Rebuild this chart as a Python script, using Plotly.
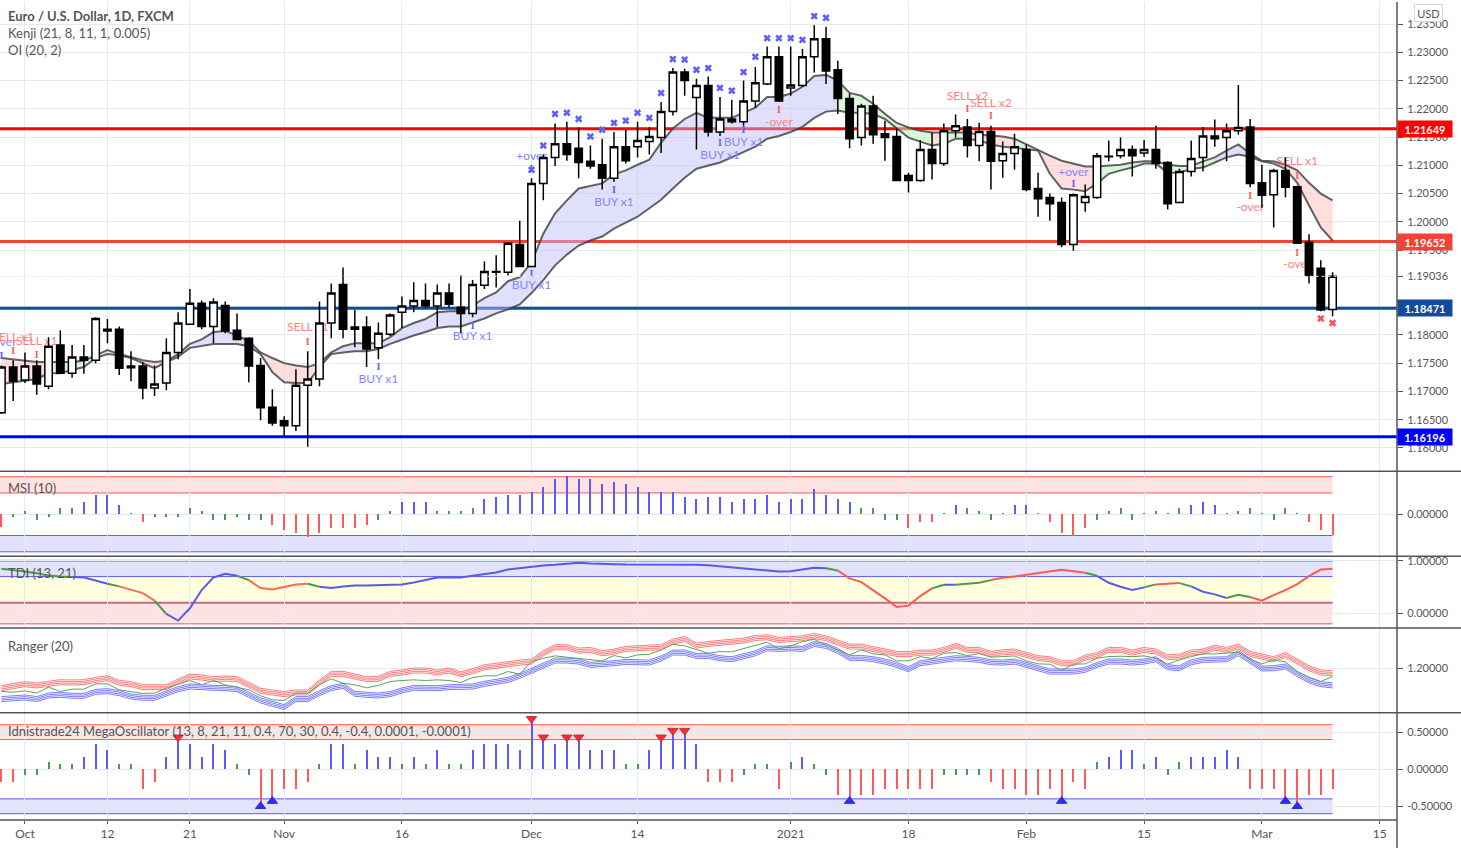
import plotly.graph_objects as go

# ---------- data ----------
BAR_INDEX = list(range(-2, 112))
OPEN = [1.1662,1.1743,1.1720,1.1745,1.1709,1.1782,1.1732,1.1761,1.1755,1.1810,1.1810,1.1745,1.1745,1.1706,1.1715,1.1769,1.1819,1.1856,1.1815,1.1852,1.1808,1.1794,1.1746,1.1672,1.1648,1.1639,1.1711,1.1722,1.1821,1.1889,1.1814,1.1814,1.1777,1.1801,1.1840,1.1851,1.1861,1.1851,1.1874,1.1849,1.1838,1.1888,1.1911,1.1911,1.1960,1.1921,1.2068,1.2114,1.2138,1.2130,1.2107,1.2101,1.2077,1.2133,1.2133,1.2142,1.2149,1.2195,1.2265,1.2220,1.2241,1.2159,1.2182,1.2177,1.2214,1.2244,1.2292,1.2237,1.2241,1.2292,1.2324,1.2269,1.2218,1.2149,1.2205,1.2156,1.2151,1.2082,1.2073,1.2128,1.2103,1.2161,1.2168,1.2135,1.2160,1.2108,1.2121,1.2128,1.2059,1.2043,1.2034,1.1960,1.2034,1.2043,1.2115,1.2117,1.2128,1.2122,1.2128,1.2105,1.2034,1.2089,1.2114,1.2152,1.2149,1.2161,1.2168,1.2069,1.2048,1.2091,1.2062,1.1964,1.1918,1.1845]
HIGH = [1.1746,1.1755,1.1769,1.1755,1.1796,1.1808,1.1782,1.1782,1.1831,1.1828,1.1815,1.1771,1.1752,1.1746,1.1794,1.1840,1.1881,1.1861,1.1865,1.1859,1.1838,1.1796,1.1759,1.1704,1.1656,1.1739,1.1771,1.1859,1.1891,1.1919,1.1844,1.1833,1.1822,1.1838,1.1868,1.1893,1.1891,1.1889,1.1891,1.1905,1.1897,1.1930,1.1941,1.1964,1.2002,1.2077,1.2119,1.2174,1.2177,1.2167,1.2135,1.2147,1.2159,1.2163,1.2177,1.2168,1.2212,1.2272,1.2271,1.2253,1.2257,1.2221,1.2216,1.2250,1.2274,1.2310,1.2310,1.2310,1.2306,1.2348,1.2345,1.2285,1.2227,1.2209,1.2223,1.2179,1.2165,1.2087,1.2145,1.2158,1.2174,1.2190,1.2182,1.2175,1.2170,1.2142,1.2156,1.2137,1.2087,1.2050,1.2043,1.2050,1.2066,1.2122,1.2144,1.2149,1.2135,1.2145,1.2170,1.2107,1.2094,1.2144,1.2168,1.2181,1.2174,1.2242,1.2182,1.2101,1.2094,1.2114,1.2064,1.1978,1.1932,1.1911]
LOW = [1.1660,1.1683,1.1715,1.1694,1.1704,1.1731,1.1724,1.1731,1.1750,1.1785,1.1729,1.1718,1.1686,1.1692,1.1702,1.1757,1.1819,1.1810,1.1785,1.1803,1.1791,1.1716,1.1649,1.1639,1.1621,1.1630,1.1602,1.1709,1.1794,1.1794,1.1778,1.1743,1.1757,1.1798,1.1812,1.1840,1.1849,1.1814,1.1849,1.1803,1.1831,1.1881,1.1884,1.1905,1.1921,1.1921,1.2038,1.2099,1.2108,1.2077,1.2094,1.2057,1.2071,1.2103,1.2114,1.2119,1.2122,1.2188,1.2223,1.2128,1.2151,1.2152,1.2174,1.2170,1.2202,1.2242,1.2212,1.2223,1.2239,1.2264,1.2244,1.2191,1.2130,1.2135,1.2138,1.2108,1.2073,1.2052,1.2071,1.2075,1.2099,1.2149,1.2114,1.2107,1.2057,1.2078,1.2092,1.2054,1.2009,1.2002,1.1955,1.1949,1.2018,1.2041,1.2107,1.2112,1.2080,1.2115,1.2094,1.2022,1.2034,1.2080,1.2089,1.2133,1.2107,1.2154,1.2061,1.2025,1.1990,1.2043,1.1962,1.1891,1.1842,1.1833]
CLOSE = [1.1743,1.1718,1.1745,1.1713,1.1780,1.1732,1.1761,1.1755,1.1829,1.1807,1.1741,1.1742,1.1706,1.1713,1.1769,1.1821,1.1856,1.1815,1.1858,1.1807,1.1792,1.1745,1.1671,1.1644,1.1639,1.1711,1.1722,1.1821,1.1874,1.1810,1.1810,1.1775,1.1803,1.1835,1.1851,1.1861,1.1851,1.1874,1.1854,1.1838,1.1889,1.1912,1.1912,1.1962,1.1921,1.2068,1.2114,1.2138,1.2119,1.2105,1.2099,1.2077,1.2133,1.2108,1.2144,1.2151,1.2195,1.2265,1.2250,1.2241,1.2159,1.2182,1.2177,1.2214,1.2246,1.2292,1.2214,1.2242,1.2292,1.2324,1.2267,1.2218,1.2147,1.2205,1.2154,1.2149,1.2073,1.2073,1.2128,1.2103,1.2161,1.2170,1.2135,1.2160,1.2107,1.2121,1.2133,1.2057,1.2041,1.2032,1.1960,1.2048,1.2045,1.2117,1.2116,1.2128,1.2117,1.2128,1.2103,1.2032,1.2089,1.2112,1.2152,1.2147,1.2161,1.2167,1.2068,1.2047,1.2091,1.2061,1.1962,1.1905,1.1844,1.19036]

KENJI_UPPER = [1.1759,1.1757,1.1755,1.1752,1.1752,1.1752,1.1752,1.1754,1.1764,1.1773,1.1766,1.1761,1.1755,1.1752,1.1754,1.1766,1.1784,1.1792,1.1805,1.1807,1.1799,1.1789,1.1769,1.1759,1.1750,1.1746,1.1743,1.1750,1.1769,1.1780,1.1785,1.1785,1.1785,1.1796,1.1812,1.1821,1.1828,1.1840,1.1842,1.1842,1.1852,1.1865,1.1875,1.1895,1.1902,1.1928,1.1979,1.2015,1.2038,1.2059,1.2064,1.2068,1.2084,1.2091,1.2101,1.2110,1.2140,1.2165,1.2182,1.2193,1.2184,1.2184,1.2184,1.2193,1.2202,1.2221,1.2221,1.2227,1.2239,1.2258,1.2260,1.2250,1.2228,1.2223,1.2209,1.2191,1.2175,1.2167,1.2161,1.2158,1.2158,1.2158,1.2158,1.2154,1.2152,1.2151,1.2147,1.2137,1.2126,1.2117,1.2108,1.2103,1.2098,1.2098,1.2099,1.2101,1.2105,1.2107,1.2107,1.2101,1.2099,1.2099,1.2107,1.2114,1.2126,1.2137,1.2121,1.2108,1.2107,1.2101,1.2091,1.2069,1.2050,1.2038]
KENJI_LOWER = [1.1713,1.1716,1.1718,1.1722,1.1732,1.1732,1.1738,1.1743,1.1759,1.1766,1.1764,1.1759,1.1750,1.1741,1.1752,1.1761,1.1777,1.1780,1.1784,1.1784,1.1784,1.1780,1.1766,1.1734,1.1716,1.1715,1.1715,1.1743,1.1766,1.1769,1.1771,1.1771,1.1775,1.1784,1.1792,1.1799,1.1805,1.1812,1.1815,1.1815,1.1822,1.1829,1.1838,1.1845,1.1854,1.1874,1.1897,1.1923,1.1942,1.1958,1.1967,1.1974,1.1988,1.1999,1.2009,1.2024,1.2039,1.2059,1.2078,1.2094,1.2099,1.2105,1.2114,1.2124,1.2133,1.2147,1.2152,1.2159,1.2168,1.2184,1.2195,1.2197,1.2193,1.2193,1.2191,1.2182,1.2165,1.2149,1.2142,1.2135,1.2138,1.2147,1.2147,1.2144,1.2137,1.2133,1.2131,1.2128,1.2126,1.2085,1.2059,1.2057,1.2054,1.2068,1.2085,1.2091,1.2096,1.2103,1.2103,1.2087,1.2087,1.2094,1.2096,1.2105,1.2114,1.2119,1.2115,1.2107,1.2103,1.2094,1.2069,1.2029,1.1990,1.1967]
KENJI_RUNS = [(-2,2,"r"),(2,9,"g"),(9,12,"r"),(12,20,"b"),(20,25,"r"),(25,69,"b"),(69,77,"g"),(77,78,"r"),(78,80,"g"),(80,84,"r"),(84,86,"g"),(86,91,"r"),(91,101,"g"),(101,104,"b"),(104,111,"r")]

X_BLUE_IDX = list(range(43, 69))
X_BLUE_PRICE = [1.2092,1.2135,1.2191,1.2193,1.2182,1.2151,1.2163,1.2175,1.2179,1.2193,1.2184,1.2228,1.2288,1.2287,1.2269,1.2272,1.2237,1.2232,1.2265,1.2292,1.2325,1.2325,1.2325,1.2322,1.2364,1.2361]
X_RED_IDX = [110, 111]
X_RED_PRICE = [1.1829, 1.1821]

BLUE_LABELS = [("BUY x1",30,1.1720,1.1743),("BUY x1",38,1.1796,1.1815),("BUY x1",43,1.1886,1.1907),("BUY x1",50,1.2034,1.2055),("BUY x1",59,1.2117,1.2138),("BUY x1",61,1.2140,1.2161),("+over",43,1.2115,1.2092),("+over",89,1.2087,1.2066),("+over",-2,1.1785,1.1762)]
RED_LABELS = [("SELL x1",-1,1.1794,1.1771),("SELL x1",1,1.1787,1.1764),("SELL x1",24,1.1812,1.1787),("SELL x2",80,1.2221,1.2198),("SELL x2",82,1.2209,1.2186),("SELL x1",108,1.2105,1.2080),("-over",64,1.2175,1.2197),("-over",104,1.2024,1.2045),("-over",108,1.1923,1.1944)]

LEVELS = [(1.21649,"#ff0000"),(1.19652,"#f44336"),(1.18471,"#134a9c"),(1.16196,"#0000ff")]
LAST_PRICE = 1.19036

# MSI histogram, in indicator points (band edges at +-64 and +-113)
MSI = [-40,-8,9,-18,-8,18,18,35,58,58,26,2,-24,-8,-8,-8,18,9,-18,-18,-8,-18,-18,-32,-48,-56,-70,-56,-42,-42,-42,-32,-18,9,35,35,35,9,9,9,18,44,50,58,58,66,82,106,114,106,106,90,96,90,82,66,66,66,50,44,50,50,35,44,44,58,35,44,44,74,58,44,35,18,18,-18,-18,-42,-24,-24,2,26,18,9,-18,2,26,26,2,-24,-56,-66,-42,-18,9,18,-18,2,9,2,18,26,35,26,2,9,18,2,-18,18,2,-24,-48,-64]

TDI = [0.848,0.829,0.797,0.766,0.722,0.703,0.690,0.684,0.627,0.563,0.513,0.443,0.386,0.241,-0.013,-0.139,0.095,0.443,0.684,0.753,0.715,0.633,0.481,0.456,0.500,0.551,0.563,0.506,0.481,0.513,0.532,0.532,0.538,0.538,0.551,0.589,0.633,0.684,0.684,0.684,0.715,0.747,0.778,0.835,0.861,0.899,0.911,0.924,0.943,0.962,0.949,0.937,0.937,0.930,0.930,0.930,0.930,0.937,0.930,0.924,0.918,0.899,0.873,0.861,0.848,0.829,0.797,0.804,0.842,0.867,0.861,0.816,0.665,0.595,0.443,0.285,0.120,0.146,0.329,0.475,0.544,0.544,0.563,0.582,0.633,0.677,0.703,0.734,0.760,0.785,0.829,0.804,0.772,0.715,0.582,0.506,0.443,0.494,0.551,0.563,0.576,0.513,0.411,0.361,0.291,0.354,0.310,0.241,0.348,0.443,0.557,0.709,0.835,0.848]
TDI_RUNS = [(-2,4,"#4c9a4c"),(4,7,"#5a5ae6"),(7,8,"#4c9a4c"),(8,11,"#ff6a50"),(11,12,"#4c9a4c"),(12,18,"#5a5ae6"),(18,19,"#4c9a4c"),(19,24,"#ff6a50"),(24,25,"#4c9a4c"),(25,68,"#5a5ae6"),(68,69,"#4c9a4c"),(69,77,"#ff5a50"),(77,78,"#4c9a4c"),(78,79,"#5a5ae6"),(79,82,"#4c9a4c"),(82,90,"#ff5a50"),(90,91,"#4c9a4c"),(91,95,"#5a5ae6"),(95,96,"#4c9a4c"),(96,98,"#ff5a50"),(98,99,"#4c9a4c"),(99,102,"#5a5ae6"),(102,104,"#4c9a4c"),(104,111,"#ff5a50")]

# Ranger channel mid lines, in points above 1.20
RANGER_RED = [-60,-53,-48,-52,-48,-42,-43,-42,-35,-30,-44,-48,-57,-57,-57,-40,-25,-28,-33,-31,-33,-50,-68,-73,-78,-73,-73,-43,-17,-17,-24,-33,-32,-17,-13,-7,-7,-13,-7,-18,-9,3,7,13,17,20,45,63,63,53,55,45,50,58,61,62,63,80,88,68,73,77,80,83,91,93,85,88,90,97,90,77,65,65,58,50,43,42,47,47,55,67,55,55,43,48,50,40,30,27,15,15,32,39,55,55,47,55,50,33,35,47,50,62,55,65,43,35,27,40,20,0,-13,-15]
RANGER_GREEN = [-70,-72,-68,-75,-57,-70,-63,-63,-47,-47,-65,-70,-76,-75,-60,-48,-37,-50,-37,-50,-57,-65,-83,-95,-97,-75,-75,-50,-32,-45,-50,-59,-52,-40,-37,-35,-37,-35,-37,-43,-28,-23,-23,-10,-18,20,30,37,33,30,27,22,38,31,40,42,55,72,67,57,45,50,49,59,68,78,58,67,80,87,70,55,40,55,43,40,22,22,35,29,45,47,38,44,33,35,37,22,13,12,-7,12,13,30,35,36,35,37,30,12,25,35,43,43,45,48,27,13,25,19,-10,-27,-40,-25]
RANGER_BLUE = [-93,-90,-88,-93,-82,-80,-83,-83,-71,-69,-75,-85,-89,-89,-75,-63,-55,-58,-59,-60,-63,-80,-97,-107,-117,-93,-93,-75,-60,-53,-77,-80,-82,-78,-67,-59,-60,-60,-57,-55,-55,-47,-41,-35,-23,-7,8,23,23,20,10,12,15,19,19,17,29,47,47,37,37,30,27,37,45,60,58,60,58,73,67,52,31,31,27,20,10,-3,15,20,25,30,28,25,18,17,20,10,0,-10,-10,-10,-5,10,20,20,17,20,27,3,0,18,25,27,27,45,22,-1,0,5,-17,-37,-48,-52]

# Mega oscillator histogram (real values on its axis)
MEGA = [-0.17,-0.17,-0.08,-0.08,0.10,0.08,0.08,0.17,0.34,0.26,0.08,0.08,-0.26,-0.17,0.17,0.43,0.34,0.17,0.34,0.26,0.08,-0.08,-0.50,-0.43,-0.26,-0.26,-0.17,0.08,0.34,0.34,0.08,0.26,0.17,0.17,0.08,0.17,0.08,0.26,0.08,0.08,0.26,0.34,0.34,0.34,0.26,0.68,0.43,0.34,0.43,0.43,0.26,0.26,0.26,0.08,0.08,0.26,0.43,0.52,0.52,0.34,-0.17,-0.17,-0.17,-0.08,0.08,0.08,-0.26,0.10,0.17,0.08,-0.08,-0.34,-0.43,-0.34,-0.34,-0.26,-0.26,-0.26,-0.26,-0.26,-0.08,-0.08,-0.08,-0.08,-0.17,-0.26,-0.26,-0.34,-0.34,-0.26,-0.43,-0.17,-0.26,0.10,0.17,0.26,0.26,0.08,0.17,-0.08,0.10,0.17,0.17,0.17,0.26,0.17,-0.26,-0.26,-0.26,-0.43,-0.50,-0.34,-0.34,-0.26]
MEGA_SELL_IDX = [13,43,44,46,47,54,55,56]
MEGA_BUY_IDX = [20,21,70,88,107,108]

TICK_IDX = [0,7,14,22,32,43,52,65,75,85,95,105,115]
TICK_TEXT = ["Oct","12","21","Nov","16","Dec","14","2021","18","Feb","15","Mar","15"]
PRICE_TICKS = [1.16,1.165,1.17,1.175,1.18,1.185,1.19036,1.195,1.20,1.205,1.21,1.215,1.22,1.225,1.23,1.235]

_lens = {n: len(s) for n, s in dict(OPEN=OPEN, HIGH=HIGH, LOW=LOW, CLOSE=CLOSE, KU=KENJI_UPPER, KL=KENJI_LOWER, MSI=MSI, TDI=TDI,
                                     RR=RANGER_RED, RG=RANGER_GREEN, RB=RANGER_BLUE, MEGA=MEGA).items()}
assert all(v == len(BAR_INDEX) for v in _lens.values()), _lens

FONT = "Lato"
TXT = "#555555"
GRID = "#e3ebf2"
H, W, PLOT_W = 820, 1461, 1397
frac = lambda y: min(1, (H - (y - 0.5)) / H)

fig = go.Figure()

# base layer of the price pane: levels, ribbon, signals
for lvl, col in LEVELS:
    fig.add_trace(go.Scatter(x=[-3, 118], y=[lvl, lvl], mode="lines", line=dict(color=col, width=3), yaxis="y", hoverinfo="skip"))
FILLS = {"r": "rgba(255,190,190,0.5)", "g": "rgba(190,240,190,0.55)", "b": "rgba(190,190,250,0.48)"}
for a, b, c in KENJI_RUNS:
    ia, ib = a + 2, b + 3
    fig.add_trace(go.Scatter(x=BAR_INDEX[ia:ib] + BAR_INDEX[ia:ib][::-1],
                             y=KENJI_UPPER[ia:ib] + KENJI_LOWER[ia:ib][::-1],
                             mode="lines", line=dict(width=0), fill="toself", fillcolor=FILLS[c], yaxis="y", hoverinfo="skip"))
for s in (KENJI_UPPER, KENJI_LOWER):
    fig.add_trace(go.Scatter(x=BAR_INDEX, y=s, mode="lines", line=dict(color="rgba(60,60,60,0.8)", width=2), yaxis="y", hoverinfo="skip"))

for labels, col, icol in ((BLUE_LABELS, "#8585ff", "#5f5fff"), (RED_LABELS, "#ff8080", "#ff5a5a")):
    fig.add_trace(go.Scatter(x=[l[1] for l in labels], y=[l[2] for l in labels], mode="text", text=[l[0] for l in labels],
                             textfont=dict(family=FONT, size=12, color=col), yaxis="y", hoverinfo="skip"))
    fig.add_trace(go.Scatter(x=[l[1] for l in labels], y=[l[3] for l in labels], mode="text", text=["<b>I</b>"] * len(labels),
                             textfont=dict(family="Liberation Serif", size=10, color=icol), yaxis="y", hoverinfo="skip"))
fig.add_trace(go.Scatter(x=X_BLUE_IDX, y=X_BLUE_PRICE, mode="markers", marker=dict(symbol="x", size=6.5, color="#5f5fff", line=dict(width=0)), yaxis="y", hoverinfo="skip"))
fig.add_trace(go.Scatter(x=X_RED_IDX, y=X_RED_PRICE, mode="markers", marker=dict(symbol="x", size=6.5, color="#ff5050", line=dict(width=0)), yaxis="y", hoverinfo="skip"))

# candles on an overlaid axis, so they sit above the ribbon
fig.add_trace(go.Candlestick(x=BAR_INDEX, open=OPEN, high=HIGH, low=LOW, close=CLOSE, yaxis="y6", whiskerwidth=0,
                             increasing=dict(line=dict(color="#000000", width=1.5), fillcolor="#ffffff"),
                             decreasing=dict(line=dict(color="#000000", width=1.5), fillcolor="#000000")))
fig.add_trace(go.Scatter(x=[-3, 118], y=[LAST_PRICE, LAST_PRICE], mode="lines", line=dict(color="rgba(255,255,255,0.9)", width=1, dash="dot"), yaxis="y6", hoverinfo="skip"))

# MSI
fig.add_trace(go.Bar(x=BAR_INDEX, y=MSI, width=0.17, yaxis="y2", hoverinfo="skip",
                     marker=dict(line=dict(width=0), color=["#5a5aff" if v >= 26 else "#ff5a5a" if v <= -24 else "#4c9a4c" for v in MSI])))
# TDI
for a, b, c in TDI_RUNS:
    fig.add_trace(go.Scatter(x=BAR_INDEX[a + 2:b + 3], y=TDI[a + 2:b + 3], mode="lines", line=dict(color=c, width=2), yaxis="y3", hoverinfo="skip"))
# Ranger
for series, col in ((RANGER_RED, "rgba(255,70,70,0.8)"), (RANGER_BLUE, "rgba(70,70,255,0.8)")):
    for off in (-7.5, -2.5, 2.5, 7.5):
        fig.add_trace(go.Scatter(x=BAR_INDEX, y=[v + off for v in series], mode="lines", line=dict(color=col, width=0.9), yaxis="y4", hoverinfo="skip"))
fig.add_trace(go.Scatter(x=BAR_INDEX, y=RANGER_GREEN, mode="lines", line=dict(color="#5aa55a", width=1), yaxis="y4", hoverinfo="skip"))
# Mega
fig.add_trace(go.Bar(x=BAR_INDEX, y=MEGA, width=0.17, yaxis="y5", hoverinfo="skip",
                     marker=dict(line=dict(width=0), color=["#5a5aff" if v >= 0.17 else "#ff5a5a" if v <= -0.17 else "#4c9a4c" for v in MEGA])))
fig.add_trace(go.Scatter(x=MEGA_SELL_IDX, y=[MEGA[i + 2] for i in MEGA_SELL_IDX], mode="markers", yaxis="y5", hoverinfo="skip",
                         marker=dict(symbol="triangle-down", size=9, color="#ff2b2b", line=dict(color="#c03040", width=1))))
fig.add_trace(go.Scatter(x=MEGA_BUY_IDX, y=[MEGA[i + 2] for i in MEGA_BUY_IDX], mode="markers", yaxis="y5", hoverinfo="skip",
                         marker=dict(symbol="triangle-up", size=9, color="#2b2bff", line=dict(color="#3030c0", width=1))))

# bands (shapes under the traces)
RED_F, BLUE_F, YEL_F = "#ffe2e2", "#e2e2fd", "#ffffe0"
def band(axis, y0, y1, fill):
    fig.add_shape(type="rect", xref="x", yref=axis, x0=-3, x1=111, y0=y0, y1=y1, fillcolor=fill, line_width=0, layer="below")
def hline(axis, y, col, width=1):
    fig.add_shape(type="line", xref="x", yref=axis, x0=-3, x1=111, y0=y, y1=y, line=dict(color=col, width=width), layer="below")
band("y2", 64, 113, RED_F); band("y2", -113, -64, BLUE_F)
for v in (64, 113): hline("y2", v, "#ff5a5a")
for v in (-64, -113): hline("y2", v, "#5a5aff")
band("y3", 0.7, 1.0, BLUE_F); band("y3", 0.2, 0.7, YEL_F); band("y3", -0.2, 0.2, RED_F)
hline("y3", 1.0, "#8a8af5", 2); hline("y3", 0.7, "#5a5aee"); hline("y3", 0.2, "#c46a8a", 2); hline("y3", -0.2, "#f08a8a", 1.5)
band("y5", 0.4, 0.6, RED_F); band("y5", -0.6, -0.4, BLUE_F)
for v in (0.4, 0.6): hline("y5", v, "#ff5a5a")
for v in (-0.4, -0.6): hline("y5", v, "#5a5aff")

# pane frame
for y in (471, 556, 628, 713):
    fig.add_shape(type="line", xref="paper", yref="paper", x0=0, x1=W / PLOT_W, y0=frac(y), y1=frac(y), line=dict(color="#555555", width=1.5))
fig.add_shape(type="line", xref="paper", yref="paper", x0=0, x1=1, y0=0, y1=0, line=dict(color="#555555", width=1.5))
fig.add_shape(type="line", xref="paper", yref="paper", x0=1, x1=1, y0=frac(849), y1=1, line=dict(color="#555555", width=1.5))

yax = dict(side="right", anchor="x", showgrid=True, gridcolor=GRID, gridwidth=1, zeroline=False, ticks="outside", ticklen=5,
           tickcolor="#555555", showline=False, tickfont=dict(family=FONT, size=11, color=TXT), ticklabelstandoff=2, fixedrange=True)
PRICE_RANGE = [1.16 + (448 - 471.5) * 0.0001765, 1.16 + 447 * 0.0001765]
fig.update_layout(
    width=W, height=848, margin=dict(l=0, r=W - PLOT_W, t=0, b=848 - H), autosize=False,
    paper_bgcolor="#ffffff", plot_bgcolor="#ffffff", showlegend=False, dragmode=False, bargap=0, boxgap=0.3, boxgroupgap=0.1,
    xaxis=dict(anchor="y5", range=[-2.12, (PLOT_W - 25) / 11.78], tickmode="array", tickvals=TICK_IDX, ticktext=TICK_TEXT,
               showgrid=True, gridcolor=GRID, zeroline=False, ticks="outside", ticklen=3, tickcolor="#555555",
               tickfont=dict(family=FONT, size=12, color=TXT), rangeslider=dict(visible=False), showline=False, fixedrange=True),
    yaxis=dict(yax, domain=[frac(471), 1], range=PRICE_RANGE, tickmode="array", tickvals=PRICE_TICKS, tickformat=".5f"),
    yaxis2=dict(yax, domain=[frac(556), frac(471)], range=[-126, 129], tickmode="array", tickvals=[0], ticktext=["0.00000"]),
    yaxis3=dict(yax, domain=[frac(628), frac(556)], range=[-0.28, 1.09], tickmode="array", tickvals=[0, 1], ticktext=["0.00000", "1.00000"]),
    yaxis4=dict(yax, domain=[frac(713), frac(628)], range=[-134, 121], tickmode="array", tickvals=[0], ticktext=["1.20000"]),
    yaxis5=dict(yax, domain=[0, frac(713)], range=[-0.685, 0.761], tickmode="array", tickvals=[-0.5, 0, 0.5], ticktext=["-0.50000", "0.00000", "0.50000"]),
    yaxis6=dict(overlaying="y", side="right", range=PRICE_RANGE, visible=False, fixedrange=True),
)

def label(text, x, y, size=13, bold=False):
    fig.add_annotation(xref="paper", yref="paper", x=x / PLOT_W, y=frac(y), xanchor="left", yanchor="middle", showarrow=False,
                       text=f"<b>{text}</b>" if bold else text, font=dict(family=FONT, size=size, color=TXT), align="left")
label("Euro / U.S. Dollar, 1D, FXCM", 6, 14.5, 13, True)
label("Kenji (21, 8, 11, 1, 0.005)", 6, 31.5)
label("OI (20, 2)", 6, 48.5)
label("MSI (10)", 6, 488)
label("TDI (13, 21)", 6, 573)
label("Ranger (20)", 6, 646)
label("Idnistrade24 MegaOscillator (13, 8, 21, 11, 0.4, 70, 30, 0.4, -0.4, 0.0001, -0.0001)", 6, 731, 13)

for lvl, col in LEVELS:
    fig.add_annotation(xref="paper", yref="y", x=1, y=lvl, xanchor="left", yanchor="middle", showarrow=False, width=54, height=16,
                       bgcolor=col, borderpad=0, text=f"<b>{lvl:.5f}</b>", font=dict(family=FONT, size=11, color="#ffffff"))
fig.add_annotation(xref="paper", yref="paper", x=1414.5 / PLOT_W, y=frac(12), xanchor="left", yanchor="middle", showarrow=False, width=25, height=14,
                   bgcolor="#ffffff", bordercolor="#d5d9de", borderwidth=1, text="USD", font=dict(family=FONT, size=11, color=TXT))

fig.write_html("out.html", config=dict(displayModeBar=False),
               post_script="document.body.style.margin='0';")
